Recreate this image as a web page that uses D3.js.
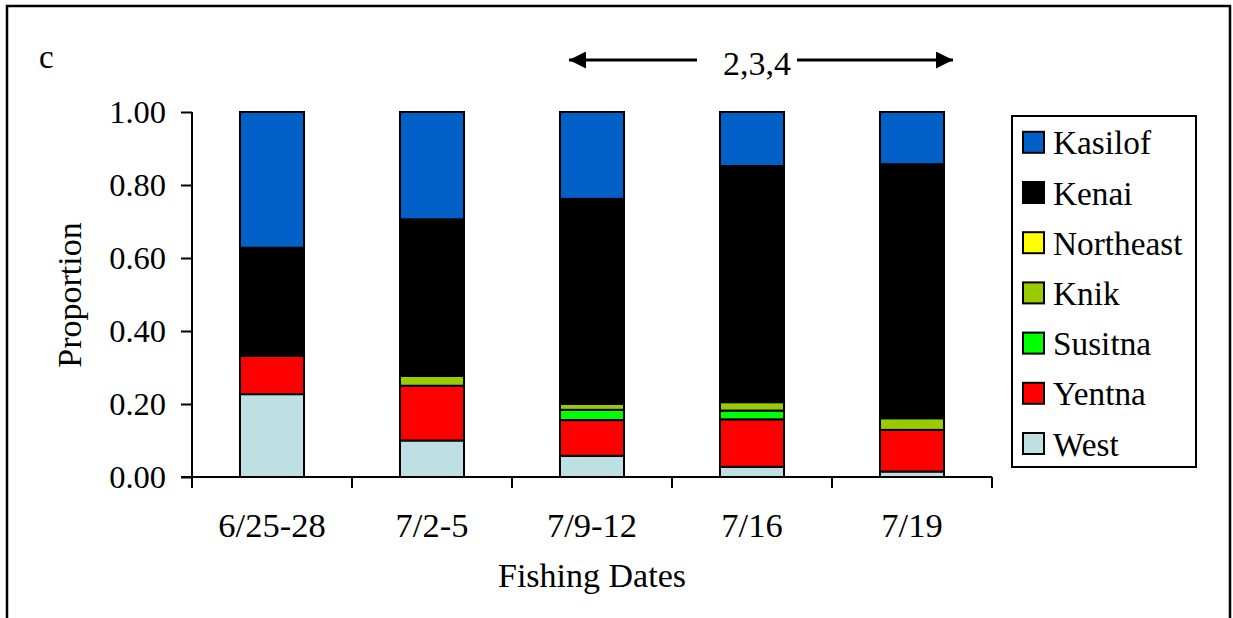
<!DOCTYPE html>
<html>
<head>
<meta charset="utf-8">
<script src="https://cdn.jsdelivr.net/npm/d3@7"></script>
</head>
<body style="margin:0;padding:0;background:#fff">
<svg id="chart" width="1233" height="618"></svg>
<script>
// ---- data ----
const categories = ["6/25-28", "7/2-5", "7/9-12", "7/16", "7/19"];
const seriesNames = ["West", "Yentna", "Susitna", "Knik", "Northeast", "Kenai", "Kasilof"];
const West      = [0.227, 0.100, 0.058, 0.028, 0.015];
const Yentna    = [0.105, 0.150, 0.098, 0.130, 0.114];
const Susitna   = [0.000, 0.000, 0.028, 0.024, 0.000];
const Knik      = [0.000, 0.027, 0.016, 0.023, 0.032];
const Northeast = [0.000, 0.000, 0.000, 0.000, 0.000];
const Kenai     = [0.296, 0.429, 0.562, 0.647, 0.696];
const Kasilof   = [0.372, 0.294, 0.238, 0.148, 0.143];
const yTicks = [0, 0.2, 0.4, 0.6, 0.8, 1.0];
const colors = {
  West: "#BEE0E3", Yentna: "#FF0000", Susitna: "#00FF00", Knik: "#99CC00",
  Northeast: "#FFFF00", Kenai: "#000000", Kasilof: "#0060C8"
};
const seriesValues = { West, Yentna, Susitna, Knik, Northeast, Kenai, Kasilof };

const table = categories.map((c, i) => {
  const row = { cat: c };
  seriesNames.forEach(s => row[s] = seriesValues[s][i]);
  return row;
});

const FONT = "Liberation Serif";
const svg = d3.select("#chart");

function txt(sel, fs) {
  return sel.attr("font-family", FONT).attr("font-size", fs).attr("fill", "#000");
}

// outer frame
svg.append("rect").attr("x", 7).attr("y", 6).attr("width", 1223).attr("height", 640)
  .attr("fill", "none").attr("stroke", "#000").attr("stroke-width", 2.5);

const x = d3.scaleBand().domain(categories).range([192, 992]).padding(0);
const y = d3.scaleLinear().domain([0, 1]).range([477, 112]);

const layers = d3.stack().keys(seriesNames)(table);
const barFrac = 0.4;

const g = svg.append("g");
layers.forEach(layer => {
  g.selectAll(null).data(layer.filter(d => d[1] - d[0] > 0)).enter().append("rect")
    .attr("x", d => x(d.data.cat) + x.bandwidth() * (1 - barFrac) / 2)
    .attr("width", x.bandwidth() * barFrac)
    .attr("y", d => y(d[1]))
    .attr("height", d => y(d[0]) - y(d[1]))
    .attr("fill", colors[layer.key])
    .attr("stroke", "#000")
    .attr("stroke-width", 2);
});

// y axis
const yAxis = d3.axisLeft(y).tickValues(yTicks).tickFormat(d3.format(".2f")).tickSize(11).tickPadding(15);
const ya = svg.append("g").attr("transform", "translate(192,0)").call(yAxis);
ya.attr("font-family", FONT);
ya.select(".domain").attr("stroke-width", 2).attr("d", "M0,112V477");
ya.selectAll(".tick line").attr("stroke-width", 2);
ya.selectAll(".tick text").call(txt, 32.5);

// x axis
const xAxis = d3.axisBottom(x).tickSize(0).tickPadding(0);
const xa = svg.append("g").attr("transform", "translate(0,477)").call(xAxis);
xa.attr("font-family", FONT);
xa.select(".domain").attr("stroke-width", 2).attr("d", "M181,0H992");
xa.selectAll(".tick text").attr("y", 60).attr("dy", 0).call(txt, 34.5);
const boundaries = categories.map(c => x(c)).concat([x(categories[categories.length - 1]) + x.bandwidth()]);
xa.selectAll(".bnd").data(boundaries).enter().append("line")
  .attr("x1", d => d).attr("x2", d => d).attr("y1", 0).attr("y2", 11)
  .attr("stroke", "#000").attr("stroke-width", 2);

// axis titles
svg.append("text").attr("x", 592).attr("y", 587).attr("text-anchor", "middle").call(txt, 34).text("Fishing Dates");
svg.append("text").attr("transform", "translate(81,295) rotate(-90)").attr("text-anchor", "middle")
  .call(txt, 34).text("Proportion");
svg.append("text").attr("x", 39).attr("y", 68).call(txt, 33).text("c");

// arrow annotation
const defs = svg.append("defs");
defs.append("marker").attr("id", "ah").attr("viewBox", "0 0 10 10").attr("refX", 10).attr("refY", 5)
  .attr("markerWidth", 18).attr("markerHeight", 17).attr("markerUnits", "userSpaceOnUse")
  .attr("orient", "auto")
  .append("path").attr("d", "M0,0L10,5L0,10Z").attr("fill", "#000");
svg.append("line").attr("x1", 697).attr("x2", 569).attr("y1", 60).attr("y2", 60)
  .attr("stroke", "#000").attr("stroke-width", 3).attr("marker-end", "url(#ah)");
svg.append("line").attr("x1", 797).attr("x2", 953).attr("y1", 60).attr("y2", 60)
  .attr("stroke", "#000").attr("stroke-width", 3).attr("marker-end", "url(#ah)");
svg.append("text").attr("x", 757).attr("y", 75).attr("text-anchor", "middle").call(txt, 34).text("2,3,4");

// legend
svg.append("rect").attr("x", 1012).attr("y", 116).attr("width", 184).attr("height", 351)
  .attr("fill", "#fff").attr("stroke", "#000").attr("stroke-width", 2);
const legendOrder = seriesNames.slice().reverse();
const lg = svg.append("g");
legendOrder.forEach((s, i) => {
  const cy = 142.3 + i * 50.2;
  lg.append("rect").attr("x", 1023).attr("y", cy - 10.5).attr("width", 21).attr("height", 21)
    .attr("fill", colors[s]).attr("stroke", "#000").attr("stroke-width", 2);
  lg.append("text").attr("x", 1053).attr("y", cy + 12).call(txt, 33.3).text(s);
});
</script>
</body>
</html>
